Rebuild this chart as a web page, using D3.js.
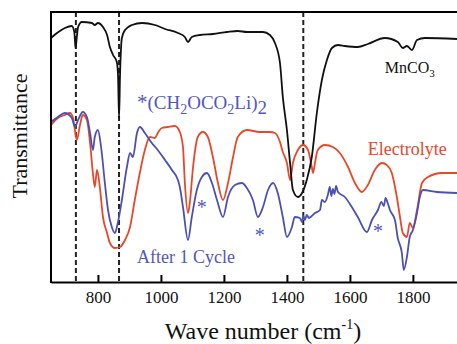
<!DOCTYPE html>
<html><head><meta charset="utf-8">
<script src="https://cdn.jsdelivr.net/npm/d3@7/dist/d3.min.js"></script>
<style>html,body{margin:0;padding:0;background:#fff;} svg{display:block;}</style>
</head><body>
<svg id="c" width="457" height="344"></svg>
<script>
// ---- data (wavenumber in cm^-1, transmittance in arbitrary units) ----
const mnco3Wave = [651,670,695,717,725,729,733,737,749,781,790,800,816,829,838,848,860,864,867,870,876,886,908,940,981,1013,1054,1076,1086,1098,1124,1165,1210,1244,1273,1324,1346,1362,1378,1387,1400,1410,1419,1435,1448,1463,1479,1495,1511,1527,1543,1562,1584,1625,1657,1711,1752,1768,1781,1797,1813,1838,1940];
const mnco3T    = [244,249,254,256,250,234,245,255,260,259,257,259,255,247,235,227,220,205,164,205,244,252,257,259,257,253,249,245,240,245,247,248,250,251,250,250,247,239,219,185,152,119,92,85,89,102,125,169,202,222,234,237,236,235,238,244,240,234,236,232,242,244,243];

const electrolyteWave = [651,673,695,711,721,733,743,752,765,775,784,790,797,806,816,829,838,854,870,886,902,917,933,949,965,981,990,1003,1022,1044,1060,1070,1076,1086,1092,1102,1117,1133,1149,1165,1181,1197,1213,1229,1244,1273,1314,1346,1362,1378,1387,1400,1410,1419,1435,1451,1467,1479,1483,1489,1498,1521,1546,1568,1594,1616,1638,1657,1679,1702,1717,1733,1749,1759,1768,1781,1790,1800,1813,1829,1848,1892,1940];
const electrolyteT    = [157,164,167,169,164,142,157,167,162,139,109,95,112,95,65,49,39,34,35,42,55,82,109,132,145,144,149,154,155,156,150,135,99,69,80,115,145,150,145,125,99,82,99,125,145,152,150,150,149,140,130,119,102,119,132,137,132,115,109,119,132,137,135,129,115,99,90,97,112,119,117,109,85,65,49,45,59,54,72,99,105,109,109];

const cycleWave = [651,673,695,717,727,737,752,765,775,784,790,800,810,822,832,844,854,863,876,892,902,911,924,933,949,971,990,1013,1035,1054,1060,1070,1086,1098,1114,1130,1146,1162,1178,1197,1213,1235,1257,1273,1292,1308,1324,1340,1356,1371,1387,1400,1416,1425,1441,1448,1452,1457,1463,1470,1489,1505,1511,1520,1530,1536,1541,1546,1551,1556,1562,1584,1606,1625,1654,1670,1689,1700,1708,1713,1720,1727,1743,1752,1765,1771,1781,1790,1800,1813,1822,1832,1876,1940];
const cycleT    = [160,165,169,164,155,162,170,165,149,132,145,152,135,99,72,55,49,59,82,115,129,125,149,155,149,139,132,122,112,102,95,75,42,65,92,105,109,99,82,65,85,97,99,94,82,65,75,92,99,89,65,45,55,65,64,60,66,62,67,64,69,72,82,80,87,95,86,93,88,96,90,85,75,65,50,62,72,80,76,84,79,72,62,44,29,12,25,45,52,69,85,92,90,89];

const xTicks = [800,1000,1200,1400,1600,1800];
const dashedWaves = [730,867,1452];
const asteriskWaves = [1130,1314,1689];
const asteriskT = [77,49,53];

// ---- layout ----
const W = 457, H = 344;
const m = {left:51, top:12, right:457, bottom:282};
const svg = d3.select("#c");
const x = d3.scaleLinear().domain([651,1940]).range([m.left, m.right]);
const y = d3.scaleLinear().domain([0,270]).range([m.bottom, m.top]);

const black = "#111", red = "#e8482a", blue = "#4c50b2", blueText = "#5457bd";
const serif = "'Liberation Serif','Times New Roman',serif";

svg.append("defs").append("clipPath").attr("id","clip")
  .append("rect").attr("x",m.left).attr("y",m.top).attr("width",m.right-m.left).attr("height",m.bottom-m.top);

const plot = svg.append("g").attr("clip-path","url(#clip)");

// dashed reference lines
plot.selectAll("line.dash").data(dashedWaves).enter().append("line")
  .attr("class","dash")
  .attr("x1",d=>x(d)).attr("x2",d=>x(d))
  .attr("y1",m.top).attr("y2",m.bottom)
  .attr("stroke","#222").attr("stroke-width",2).attr("stroke-dasharray","5,3");

const line = d3.line().x(d=>x(d[0])).y(d=>y(d[1])).curve(d3.curveMonotoneX);
const series = [
  {w:electrolyteWave, t:electrolyteT, c:red},
  {w:cycleWave, t:cycleT, c:blue},
  {w:mnco3Wave, t:mnco3T, c:black}
];
series.forEach(s=>{
  plot.append("path").datum(s.w.map((w,i)=>[w,s.t[i]]))
    .attr("d",line).attr("fill","none").attr("stroke",s.c)
    .attr("stroke-width",1.8).attr("stroke-linejoin","round");
});

// frame: top & left
svg.append("line").attr("x1",m.left).attr("x2",W).attr("y1",m.top).attr("y2",m.top)
  .attr("stroke","#000").attr("stroke-width",2);
svg.append("line").attr("x1",m.left).attr("x2",m.left).attr("y1",m.top-1).attr("y2",m.bottom+1)
  .attr("stroke","#000").attr("stroke-width",2);

// x axis
const ax = svg.append("g").attr("transform",`translate(0,${m.bottom})`)
  .call(d3.axisBottom(x).tickValues(xTicks).tickFormat(d3.format("d")).tickSizeInner(-7).tickSizeOuter(0).tickPadding(9));
ax.attr("font-family",serif);
ax.select(".domain").attr("stroke","#000").attr("stroke-width",2);
ax.selectAll(".tick line").attr("stroke","#000").attr("stroke-width",2);
ax.selectAll(".tick text").attr("font-family",serif).attr("font-size",17).attr("fill","#111");

// axis titles
svg.append("text").attr("transform","translate(27,136) rotate(-90)")
  .attr("text-anchor","middle").attr("font-family",serif).attr("font-size",22).attr("fill","#111")
  .text("Transmittance");

const xt = svg.append("text").attr("x",263).attr("y",339).attr("text-anchor","middle")
  .attr("font-family",serif).attr("font-size",24).attr("fill","#111");
xt.append("tspan").text("Wave number (cm");
xt.append("tspan").attr("font-size",14).attr("dy",-10).text("-1");
xt.append("tspan").attr("dy",10).text(")");

// annotations
const mn = svg.append("text").attr("x",x(1711)).attr("y",y(209))
  .attr("font-family",serif).attr("font-size",16).attr("fill","#111");
mn.append("tspan").text("MnCO");
mn.append("tspan").attr("font-size",11).attr("dy",4).text("3");

const li = svg.append("text").attr("x",x(924)).attr("y",y(173))
  .attr("font-family",serif).attr("font-size",19).attr("fill",blueText);
li.append("tspan").attr("font-size",21).text("*");
li.append("tspan").text("(CH");
li.append("tspan").attr("font-size",14).attr("dy",5).text("2");
li.append("tspan").attr("dy",-5).text("OCO");
li.append("tspan").attr("font-size",14).attr("dy",5).text("2");
li.append("tspan").attr("dy",-5).text("Li)");
li.append("tspan").attr("font-size",19).attr("dy",5).text("2");

svg.append("text").attr("x",x(1657)).attr("y",y(127))
  .attr("font-family",serif).attr("font-size",18).attr("fill",red).text("Electrolyte");

svg.append("text").attr("x",x(924)).attr("y",y(19))
  .attr("font-family",serif).attr("font-size",18).attr("fill",blueText).text("After 1 Cycle");

svg.selectAll("text.ast").data(asteriskWaves).enter().append("text").attr("class","ast")
  .attr("x",d=>x(d)).attr("y",(d,i)=>y(asteriskT[i])+9)
  .attr("text-anchor","middle").attr("font-family",serif).attr("font-size",20).attr("fill",blueText)
  .text("*");
</script>
</body></html>
